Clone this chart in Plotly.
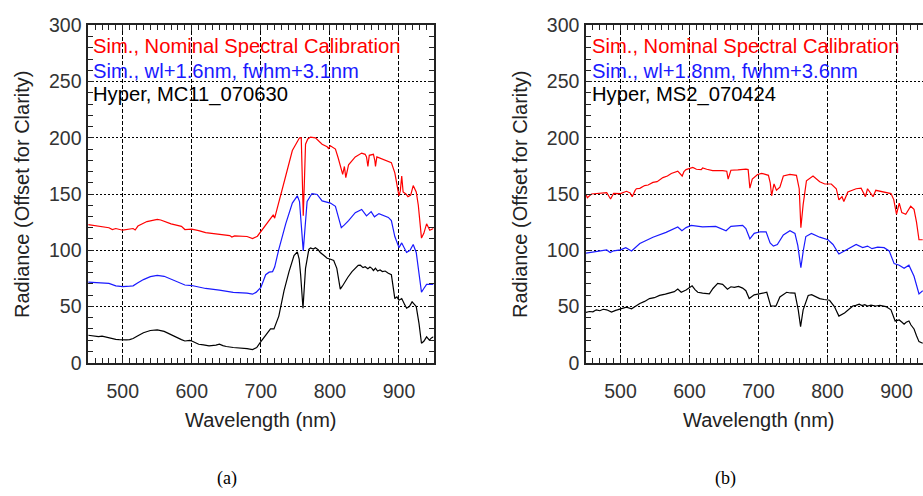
import plotly.graph_objects as go

W, H = 923, 496

# ---------------- Panel (a) data ----------------
a_red_wl = [450, 460, 470, 480, 485, 490, 500, 510, 515, 518, 522, 535, 545, 550, 555, 570, 585, 590, 600, 610,
            620, 640, 655, 658, 662, 680, 688, 695, 700, 707, 712, 716, 718, 720, 726, 736, 745.6, 753, 756, 758.5,
            760, 761.4, 763, 764.7, 768, 772, 779, 788.7, 796, 798, 800.7, 808, 812, 815, 818.5, 821, 823, 827,
            836.7, 846, 851, 853, 855, 857, 863, 865, 866, 868, 880, 889, 894, 900, 902, 904, 906, 910, 913, 917,
            920.6, 925, 928, 932.6, 936, 940, 944.6, 950]
a_red = [122.7, 122.0, 120.7, 120.0, 118.4, 119.3, 117.8, 118.8, 119.3, 118.0, 121.5, 125.5, 127.0, 127.5, 126.9,
         123.5, 121.2, 118.4, 118.7, 117.5, 115.6, 114.4, 113.0, 111.8, 112.8, 112.2, 110.3, 112.5, 116.4, 122.1,
         126.0, 129.2, 131.5, 128.5, 141.9, 166.0, 188.7, 197.0, 200.0, 200.0, 170.0, 130.6, 160.0, 194.3, 199.0,
         200.6, 200.0, 194.3, 192.0, 190.5, 192.9, 190.0, 182.0, 174.5, 167.4, 174.5, 164.6, 175.9, 183.0, 186.4,
         185.3, 183.0, 174.5, 184.4, 185.3, 180.0, 174.5, 183.0, 180.2, 177.9, 168.8, 148.4, 153.0, 166.0, 151.8,
         150.0, 147.6, 149.0, 157.5, 151.8, 140.0, 110.8, 115.0, 123.5, 117.8, 119.3]

a_blue_wl = [450, 465, 480, 490, 500, 510, 515, 522, 530, 540, 550, 560, 575, 590, 600, 620, 640, 660, 680, 688,
             693, 700, 707, 712, 717, 720, 726, 736, 745.6, 752.8, 756, 758.5, 761.4, 764, 767, 774, 781.5, 788.7,
             795, 800.7, 808, 812, 816.5, 821, 827, 836.7, 846, 853, 859.7, 864.5, 871, 884.6, 889, 894, 900, 904,
             911, 916, 920.6, 925, 929, 932.6, 936, 940, 950]
a_blue = [71.7, 71.0, 70.5, 68.3, 67.7, 68.0, 68.3, 71.0, 73.9, 76.5, 77.6, 76.8, 73.1, 69.1, 68.6, 66.0, 64.6, 62.6,
          61.8, 60.9, 62.5, 66.9, 78.2, 80.5, 81.0, 85.0, 100.8, 123.5, 141.9, 148.4, 143.3, 125.0, 99.4, 120.0,
          143.3, 150.4, 149.6, 143.9, 142.5, 141.9, 139.1, 130.0, 120.1, 122.5, 126.3, 133.4, 136.3, 130.6, 134.3,
          129.7, 132.6, 129.2, 126.3, 112.2, 102.3, 106.5, 98.0, 100.0, 105.1, 98.0, 80.0, 62.6, 66.0, 69.7, 69.7]

a_black_wl = [450, 455, 460, 465, 470, 475, 480, 485, 490, 495, 500, 505, 510, 515, 522, 530, 540, 550, 560, 575,
              585, 590, 597, 600, 605, 610, 617, 625, 635, 640, 645, 650, 660, 670, 675, 680, 688, 694, 700, 707,
              714, 719, 726, 733.6, 740.8, 748, 752.8, 755.5, 757.6, 761, 762.5, 764.7, 769.5, 772, 776, 779, 783,
              786, 791, 796, 801, 805.5, 810, 815, 818, 822, 826, 832, 837, 841, 844, 848, 851, 855, 858, 860.7,
              863, 866, 869, 872.7, 876, 880, 884.6, 889, 894, 897, 900, 904, 908, 911, 915, 919, 922, 925, 929,
              932.6, 936, 940, 944, 947, 950]
a_black = [24.4, 24.0, 24.0, 23.2, 23.6, 22.8, 22.1, 21.6, 20.7, 20.5, 20.1, 20.3, 20.5, 21.5, 24.0, 26.6, 28.6, 29.2,
           27.8, 23.0, 20.5, 19.3, 19.8, 19.3, 18.2, 16.4, 15.8, 15.0, 15.6, 16.4, 15.2, 14.4, 13.5, 13.0, 13.4, 12.5,
           11.6, 13.5, 18.7, 24.4, 30.0, 30.0, 41.4, 64.0, 81.0, 95.2, 98.6, 92.0, 78.2, 48.4, 60.0, 83.9, 100.8,
           102.0, 101.0, 102.3, 100.5, 98.0, 95.5, 92.9, 92.0, 90.9, 83.9, 65.4, 68.0, 72.5, 76.0, 81.0, 84.0, 86.5,
           86.7, 84.5, 85.3, 83.5, 85.0, 83.9, 82.0, 84.0, 81.5, 82.4, 81.0, 81.5, 79.6, 78.2, 57.0, 58.5, 55.5, 57.0,
           52.0, 48.4, 50.0, 54.1, 52.0, 49.9, 35.0, 17.3, 19.0, 23.0, 20.0, 22.0, 23.0]

# ---------------- Panel (b) data ----------------
b_red_wl = [450, 452, 458, 465, 480, 485.6, 490, 500, 508.7, 514, 517, 521, 523, 528, 535, 540, 547, 553, 561.5,
            568, 573.6, 583, 589.4, 592, 595, 604.8, 610, 617, 619, 625, 633.6, 648, 654, 656, 660, 670, 681.7,
            685, 687.5, 691, 698.6, 704.8, 714.4, 717, 719, 722.5, 726, 731, 736, 745.6, 755, 759, 761.4, 764.7,
            769.5, 779, 788.7, 796, 805.5, 812.7, 816.5, 821, 823.7, 829.5, 841.5, 848.7, 855, 858, 866, 870, 882,
            892, 896, 900, 904, 907.7, 913.4, 920.6, 925.4, 929, 932.6, 938]
b_red = [149.6, 146.7, 150.0, 150.4, 151.3, 145.6, 150.5, 150.4, 152.4, 151.0, 147.6, 153.0, 154.7, 155.0, 157.5,
         158.0, 160.3, 161.0, 164.6, 166.0, 168.3, 170.3, 166.0, 170.0, 171.7, 173.7, 172.0, 171.7, 173.1, 172.0,
         170.8, 170.8, 170.3, 163.2, 171.1, 171.5, 172.2, 171.7, 155.2, 163.2, 167.4, 168.3, 166.6, 160.0, 148.4,
         158.9, 153.3, 156.1, 166.0, 167.4, 166.6, 154.7, 120.1, 140.5, 161.8, 166.0, 160.9, 158.9, 158.9, 154.7,
         144.8, 147.6, 143.3, 151.8, 154.7, 155.2, 147.6, 154.7, 147.6, 153.3, 151.8, 150.4, 145.0, 132.0, 141.9,
         133.4, 132.0, 139.1, 136.3, 125.0, 109.3, 109.3]

b_blue_wl = [450, 465, 480, 485, 490, 500, 507.7, 516, 528, 547, 566, 583, 589, 595, 602.4, 619, 638, 653, 660, 677,
             681.7, 687.5, 693.8, 702.4, 711, 716.8, 721.6, 727.3, 736, 745.6, 752.8, 757, 761.4, 765, 768.6, 776.7,
             788.7, 800.7, 808, 816.5, 829.5, 841.5, 851, 858, 864.5, 872.7, 882, 889.4, 896.6, 904, 911, 918, 925.4,
             932.6, 938]
b_blue = [97.4, 98.6, 100.3, 98.0, 99.5, 100.3, 102.3, 99.4, 106.0, 111.6, 115.9, 120.7, 117.3, 120.1, 122.1, 120.7,
          121.2, 117.3, 121.2, 122.1, 119.3, 110.2, 115.0, 116.4, 116.4, 106.5, 103.7, 105.1, 113.6, 117.3, 115.0,
          104.0, 84.4, 100.0, 112.2, 115.0, 111.6, 109.3, 105.1, 96.6, 100.8, 105.1, 102.3, 103.7, 101.4, 102.8,
          102.3, 99.4, 88.1, 86.7, 83.9, 86.7, 76.8, 61.2, 64.0]

b_black_wl = [450, 455, 460, 465, 470, 475, 480, 487, 493, 500, 504, 508.7, 516, 522, 528, 535, 542, 549, 556.7,
              565, 573.6, 578, 583, 588, 595, 603.8, 608, 612, 619, 628.8, 634, 640.9, 648, 655, 660, 665, 671, 677,
              681.7, 686.5, 693.8, 702.4, 712, 717.7, 725.4, 731, 740.8, 746, 752.8, 757.6, 761, 764.7, 772, 777,
              781.5, 788.7, 795, 803, 810, 816.5, 824.7, 830, 836.7, 841, 846, 850, 854, 858, 863, 870, 876, 884.6,
              892, 898, 904, 908, 911, 914, 918, 921, 925.4, 929, 932.6, 938]
b_black = [44.8, 45.5, 45.2, 47.0, 46.2, 47.5, 47.0, 45.0, 46.5, 47.6, 48.2, 49.3, 47.9, 50.5, 52.7, 54.5, 57.0, 57.8,
           59.8, 61.0, 62.6, 63.2, 65.4, 62.6, 64.6, 68.3, 65.0, 62.6, 61.8, 61.2, 66.0, 70.5, 69.7, 65.4, 67.5, 66.9,
           67.8, 66.3, 64.0, 57.0, 60.3, 61.2, 62.6, 50.4, 50.4, 58.4, 62.6, 62.0, 61.8, 47.0, 32.0, 47.0, 59.8, 60.5,
           58.9, 57.0, 56.2, 55.5, 49.9, 41.4, 44.2, 47.0, 50.4, 51.0, 52.1, 50.8, 51.6, 50.4, 51.2, 50.4, 50.9, 49.9,
           47.0, 37.1, 38.0, 36.0, 34.3, 36.0, 37.1, 33.5, 30.0, 24.0, 18.7, 17.3]

x_ticks = [500, 600, 700, 800, 900]
y_ticks = [0, 50, 100, 150, 200, 250, 300]
legend_a = ["Sim., Nominal Spectral Calibration", "Sim., wl+1.6nm, fwhm+3.1nm", "Hyper, MC11_070630"]
legend_b = ["Sim., Nominal Spectral Calibration", "Sim., wl+1.8nm, fwhm+3.6nm", "Hyper, MS2_070424"]
colors = ["#ff0000", "#1a1aff", "#000000"]
x_title = "Wavelength (nm)"
y_title = "Radiance (Offset for Clarity)"
panel_labels = ["(a)", "(b)"]

FONT = "Liberation Sans, Arial, Helvetica, sans-serif"
fig = go.Figure()

series = [
    (a_red_wl, a_red, colors[0], "x", "y"),
    (a_blue_wl, a_blue, colors[1], "x", "y"),
    (a_black_wl, a_black, colors[2], "x", "y"),
    (b_red_wl, b_red, colors[0], "x2", "y2"),
    (b_blue_wl, b_blue, colors[1], "x2", "y2"),
    (b_black_wl, b_black, colors[2], "x2", "y2"),
]
for wl, v, c, xa, ya in series:
    fig.add_trace(go.Scatter(x=wl, y=v, mode="lines", line=dict(color=c, width=1.2),
                             xaxis=xa, yaxis=ya, showlegend=False, hoverinfo="skip"))

def px_x(p):
    return p / W

def px_y(p):
    return 1 - p / H

axis_common = dict(
    showline=True, linecolor="#222", linewidth=1.5, ticks="inside", ticklen=6, tickwidth=1,
    tickcolor="#222", showgrid=True, gridcolor="#000", gridwidth=1, zeroline=False,
    tickfont=dict(family=FONT, size=19.5, color="#333"),
)
x_minor = dict(dtick=10, tick0=450, ticks="inside", ticklen=5, tickwidth=1, tickcolor="#222", showgrid=False)
y_minor = dict(dtick=10, tick0=0, ticks="inside", ticklen=5, tickwidth=1, tickcolor="#222", showgrid=False)

ydom = [px_y(368), px_y(15)]
fig.update_layout(
    width=W, height=H, margin=dict(l=0, r=0, t=0, b=0),
    paper_bgcolor="white", plot_bgcolor="white",
    xaxis=dict(axis_common, domain=[px_x(88.2), px_x(433.5)], range=[450, 950], tickvals=x_ticks,
               mirror="allticks", griddash="4px,2px", minor=x_minor, anchor="y", ticklabelstandoff=10),
    yaxis=dict(axis_common, domain=ydom, range=[0, 300], tickvals=y_ticks, mirror="allticks",
               griddash="2px,2px", minor=y_minor, anchor="x", ticklabelstandoff=1),
    xaxis2=dict(axis_common, domain=[px_x(586.0), 1.0], range=[450, 450 + (923 - 586.0) / 0.69],
                tickvals=x_ticks, mirror="allticks", griddash="4px,2px", minor=x_minor, anchor="y2",
                ticklabelstandoff=10),
    yaxis2=dict(axis_common, domain=ydom, range=[0, 300], tickvals=y_ticks, mirror=False,
                griddash="2px,2px", minor=y_minor, anchor="x2", ticklabelstandoff=1),
)

annotations = []
for left, texts in ((91, legend_a), (589.5, legend_b)):
    for i, (t, c) in enumerate(zip(texts, colors)):
        annotations.append(dict(text=t, x=px_x(left), y=px_y(37 + 25.3 * i), xref="paper", yref="paper",
                                xanchor="left", yanchor="middle", showarrow=False,
                                font=dict(family=FONT, size=20.2, color=c)))
for cx in (260.5, 758.7):
    annotations.append(dict(text=x_title, x=px_x(cx), y=px_y(428), xref="paper", yref="paper",
                            xanchor="center", yanchor="middle", showarrow=False,
                            font=dict(family=FONT, size=20, color="#222")))
for cx in (22, 520):
    annotations.append(dict(text=y_title, x=px_x(cx), y=px_y(191.5), xref="paper", yref="paper",
                            xanchor="center", yanchor="middle", showarrow=False, textangle=-90,
                            font=dict(family=FONT, size=20, color="#222")))
for cx, lbl in ((227.3, panel_labels[0]), (725, panel_labels[1])):
    annotations.append(dict(text=lbl, x=px_x(cx), y=px_y(489), xref="paper", yref="paper",
                            xanchor="center", yanchor="middle", showarrow=False,
                            font=dict(family="Liberation Serif, Times New Roman, serif", size=18, color="#000")))
fig.update_layout(annotations=annotations)

fig.write_html("out.html")
